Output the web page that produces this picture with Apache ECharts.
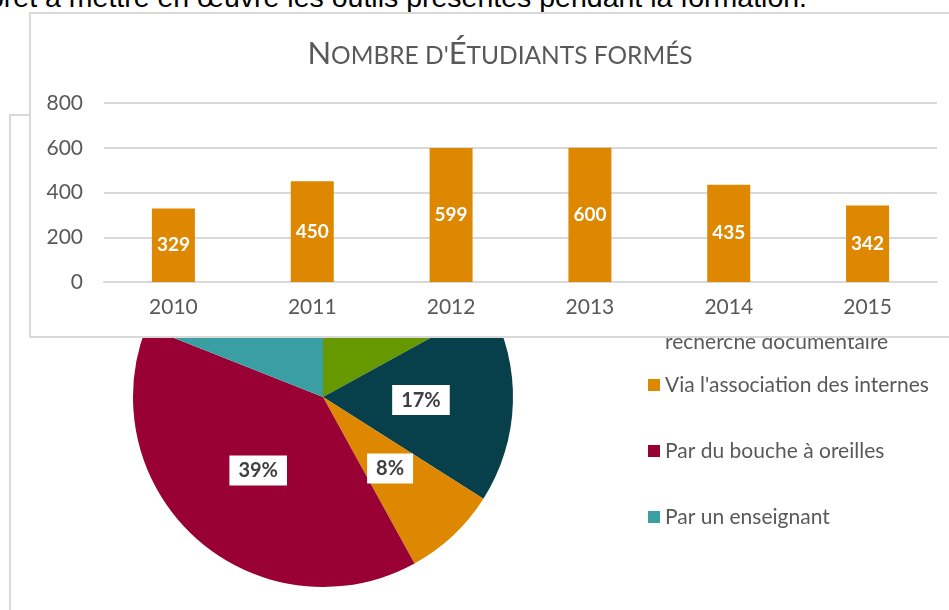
<!DOCTYPE html>
<html>
<head>
<meta charset="utf-8">
<script src="https://cdn.jsdelivr.net/npm/echarts@6/dist/echarts.min.js"></script>
<style>
    body { margin: 0; width: 949px; height: 610px; overflow: hidden; background: #fff; position: relative; }
    #doc { position: absolute; right: 142px; top: -19px; font: 28.5px 'Liberation Sans', Arial, sans-serif; color: #000; white-space: nowrap; line-height: 32px; }
    #frame { position: absolute; left: 9px; top: 114px; width: 980px; height: 600px; border: 2px solid #d9d9d9; }
    #pie { position: absolute; left: 0; top: 0; width: 949px; height: 610px; }
    #bar { position: absolute; left: 0; top: 0; width: 1000px; height: 610px; }
    #panel { position: absolute; left: 29px; top: 12px; width: 960px; height: 322px; background: #fff; border: 2px solid #d9d9d9; }
</style>
</head>
<body>
<div id="doc">et prêt à mettre en œuvre les outils présentés pendant la formation.</div>
<div id="frame"></div>
<div id="pie"></div>
<div id="panel"></div>
<div id="bar"></div>
<script>
// --- données du diagramme en barres
const years = ['2010', '2011', '2012', '2013', '2014', '2015'];
const students = [329, 450, 599, 600, 435, 342];
const yTicks = [0, 200, 400, 600, 800];

// --- données du camembert (en %)
const sources = [
    'Par un collègue',
    "Lors d'une\nrecherche documentaire",
    "Via l'association des internes",
    'Par du bouche à oreilles',
    'Par un enseignant'
];
const shares = [17, 17, 8, 39, 19];
const sourceColors = ['#669900', '#07404a', '#dd8800', '#990033', '#3a9fa3'];

const font = 'Lato, "Open Sans", sans-serif';
const grey = '#595959';

function legendAt(top, names, extra) {
    return {
        orient: 'vertical',
        left: 643,
        top: top,
        icon: 'rect',
        itemWidth: 12,
        itemHeight: 12,
        itemGap: 44,
        data: names,
        textStyle: Object.assign({ color: grey, fontSize: 21, fontFamily: font, lineHeight: 22 }, extra || {})
    };
}

// camembert (en dessous)
let pieChart = echarts.init(document.getElementById('pie'), null, { renderer: 'canvas' });
pieChart.setOption({
    animation: false,
    color: sourceColors,
    legend: [
        legendAt(249, sources.slice(0, 1)),
        // libellé sur deux lignes : le carré reste sur la première
        legendAt(293, sources.slice(1, 2), { padding: [22, 0, 0, 0] }),
        legendAt(369, sources.slice(2))
    ],
    series: [{
        type: 'pie',
        center: [323, 397],
        radius: 190,
        startAngle: 90,
        clockwise: true,
        percentPrecision: 0,
        label: {
            position: 'inside',
            formatter: '{d}%',
            color: '#404040',
            fontWeight: 'bold',
            fontSize: 20,
            fontFamily: font,
            backgroundColor: '#fff',
            padding: [5, 9]
        },
        labelLine: { show: false },
        itemStyle: { borderWidth: 0 },
        emphasis: { disabled: true },
        data: sources.map((n, i) => ({ name: n, value: shares[i] }))
    }]
});

// barres (au dessus)
let barChart = echarts.init(document.getElementById('bar'), null, { renderer: 'canvas' });
barChart.setOption({
    animation: false,
    title: {
        text: "{b|N}{s|OMBRE D'}{b|É}{s|TUDIANTS FORMÉS}",
        left: 'center',
        top: 30,
        textStyle: {
            color: grey,
            fontWeight: 'normal',
            rich: {
                b: { fontSize: 31, fontWeight: 'normal', fontFamily: font, color: grey, verticalAlign: 'bottom', lineHeight: 34 },
                s: { fontSize: 24.5, fontWeight: 'normal', fontFamily: font, color: grey, verticalAlign: 'bottom', lineHeight: 34 }
            }
        }
    },
    grid: { left: 104, right: 63, top: 103, bottom: 328, containLabel: false },
    xAxis: {
        type: 'category',
        data: years,
        axisTick: { show: false },
        axisLine: { lineStyle: { color: '#d9d9d9', width: 2 } },
        axisLabel: { color: grey, fontSize: 21, fontFamily: font, margin: 15 }
    },
    yAxis: {
        type: 'value',
        min: yTicks[0],
        max: yTicks[yTicks.length - 1],
        interval: 200,
        axisLine: { show: false },
        axisTick: { show: false },
        splitLine: { lineStyle: { color: '#d9d9d9', width: 2 } },
        axisLabel: { color: grey, fontSize: 21, fontFamily: font, margin: 21 }
    },
    series: [{
        type: 'bar',
        data: students,
        barWidth: 43,
        itemStyle: { color: '#dd8800' },
        label: {
            show: true,
            position: 'inside',
            color: '#fff',
            fontWeight: 'bold',
            fontSize: 19,
            fontFamily: font
        }
    }]
});
</script>
</body>
</html>
